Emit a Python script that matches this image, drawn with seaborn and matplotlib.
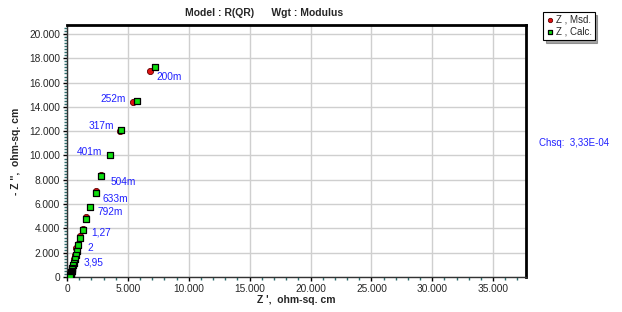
import matplotlib
matplotlib.use("Agg")
import matplotlib.pyplot as plt
import seaborn as sns
import pandas as pd
import numpy as np
from matplotlib.ticker import MultipleLocator, FuncFormatter

# ---- data (ohm-sq. cm) ----
freq_labels = ["200m", "252m", "317m", "401m", "504m", "633m", "792m", "1", "1,27", "1,58",
               "2", "2,52", "3,17", "3,95", "5", "6,3", "7,9", "10", "12,6", "15,8",
               "20", "25", "31,7", "40", "50", "63", "79", "100", "126", "158", "200k"]
zre_calc = [7210, 5710, 4400, 3520, 2820, 2350, 1860, 1590, 1310, 1100,
            920, 800, 700, 620, 550, 490, 440, 400, 370, 340,
            320, 300, 280, 270, 260, 250, 240, 235, 230, 225, 220]
zim_calc = [17260, 14510, 12100, 10040, 8340, 6890, 5740, 4750, 3870, 3210,
            2630, 2170, 1770, 1450, 1180, 960, 780, 620, 500, 400,
            320, 250, 200, 150, 120, 90, 70, 50, 35, 20, 10]
zre_msd = [6800, 5440, 4350, 3500, 2800, 2350, 1870, 1590, 1310, 1070,
           900, 780, 690, 610, 540, 480, 430, 390, 360, 330,
           310, 290, 270, 260, 250, 240, 230, 225, 220, 215, 210]
zim_msd = [16980, 14380, 12050, 10050, 8380, 7050, 5790, 4940, 3970, 3370,
           2700, 2360, 1850, 1500, 1220, 990, 800, 640, 510, 410,
           330, 260, 205, 155, 125, 95, 72, 52, 36, 22, 12]
shown_labels = ["200m", "252m", "317m", "401m", "504m", "633m", "792m", "1,27", "2", "3,95"]
label_offsets_px = {"200m": (2, -10, "left"), "252m": (-11, 2, "right"), "317m": (-7, 4, "right"),
                    "401m": (-8, 3, "right"), "504m": (9, -6, "left"), "633m": (7, -6, "left"),
                    "792m": (8, -5, "left"), "1,27": (8, -3, "left"), "2": (9, -3, "left"),
                    "3,95": (9, -3, "left")}
title_text = "Model : R(QR)      Wgt : Modulus"
chsq_text = "Chsq:  3,33E-04"

df_calc = pd.DataFrame({"x": zre_calc, "y": zim_calc})
df_msd = pd.DataFrame({"x": zre_msd, "y": zim_msd})

sns.set_style("white")
plt.rcParams["font.family"] = ["Liberation Sans", "DejaVu Sans"]

W, H = 622, 312
fig = plt.figure(figsize=(W / 100, H / 100), dpi=100)
ax = fig.add_axes([67 / W, 1 - 277 / H, (526 - 67) / W, (277 - 25) / H])

sns.scatterplot(data=df_msd, x="x", y="y", ax=ax, marker="o", s=20, color="#e01010",
                edgecolor="#600000", linewidth=0.6, zorder=3, label="Z , Msd.")
sns.scatterplot(data=df_calc, x="x", y="y", ax=ax, marker="s", s=20, color="#10e010",
                edgecolor="black", linewidth=0.9, zorder=4, label="Z , Calc.")

ax.set_xlim(0, 37700)
ax.set_ylim(0, 20740)
ax.xaxis.set_major_locator(MultipleLocator(5000))
ax.xaxis.set_minor_locator(MultipleLocator(1000))
ax.yaxis.set_major_locator(MultipleLocator(2000))
ax.yaxis.set_minor_locator(MultipleLocator(250))
fmt = FuncFormatter(lambda v, p: f"{int(round(v)):,}".replace(",", "."))
ax.xaxis.set_major_formatter(fmt)
ax.yaxis.set_major_formatter(fmt)
ax.grid(True, which="major", color="#cfcfcf", linewidth=1)
ax.set_axisbelow(True)
ax.tick_params(axis="both", which="both", bottom=True, left=True, top=False, right=False)
ax.tick_params(axis="both", which="major", labelsize=7.3, length=3, width=1, color="black",
               pad=2, direction="out")
ax.tick_params(axis="both", which="minor", length=2, width=1, color="#2f6f6f", direction="out")

for side in ["top", "right"]:
    ax.spines[side].set_linewidth(2)
    ax.spines[side].set_color("black")
for side in ["left", "bottom"]:
    ax.spines[side].set_linewidth(1)
    ax.spines[side].set_color("#333333")

ax.set_xlabel("Z ',  ohm-sq. cm", fontsize=7.5, fontweight="bold", labelpad=1)
ax.set_ylabel("- Z '',  ohm-sq. cm", fontsize=7.5, fontweight="bold", labelpad=6)

for lab, x, y in zip(freq_labels, zre_calc, zim_calc):
    if lab in shown_labels:
        dx, dy, ha = label_offsets_px[lab]
        ax.annotate(lab, (x, y), xytext=(dx, dy), textcoords="offset pixels",
                    ha=ha, va="center", fontsize=7.3, color="#2020ff")

fig.text(185 / W, 1 - 13 / H, title_text, fontsize=7.5, fontweight="bold", ha="left", va="center")
fig.text(539 / W, 1 - 143 / H, chsq_text, fontsize=7, color="#2020ff", ha="left", va="center")

leg = ax.legend(loc="upper left", bbox_to_anchor=(543 / W, 1 - 12 / H), bbox_transform=fig.transFigure,
                fontsize=7, frameon=True, fancybox=False, shadow=True, handletextpad=0.2,
                borderpad=0.3, labelspacing=0.2, handlelength=0.8, markerscale=0.7,
                borderaxespad=0)
leg.get_frame().set_edgecolor("black")
leg.get_frame().set_linewidth(0.8)

fig.savefig("out.png", dpi=100)
